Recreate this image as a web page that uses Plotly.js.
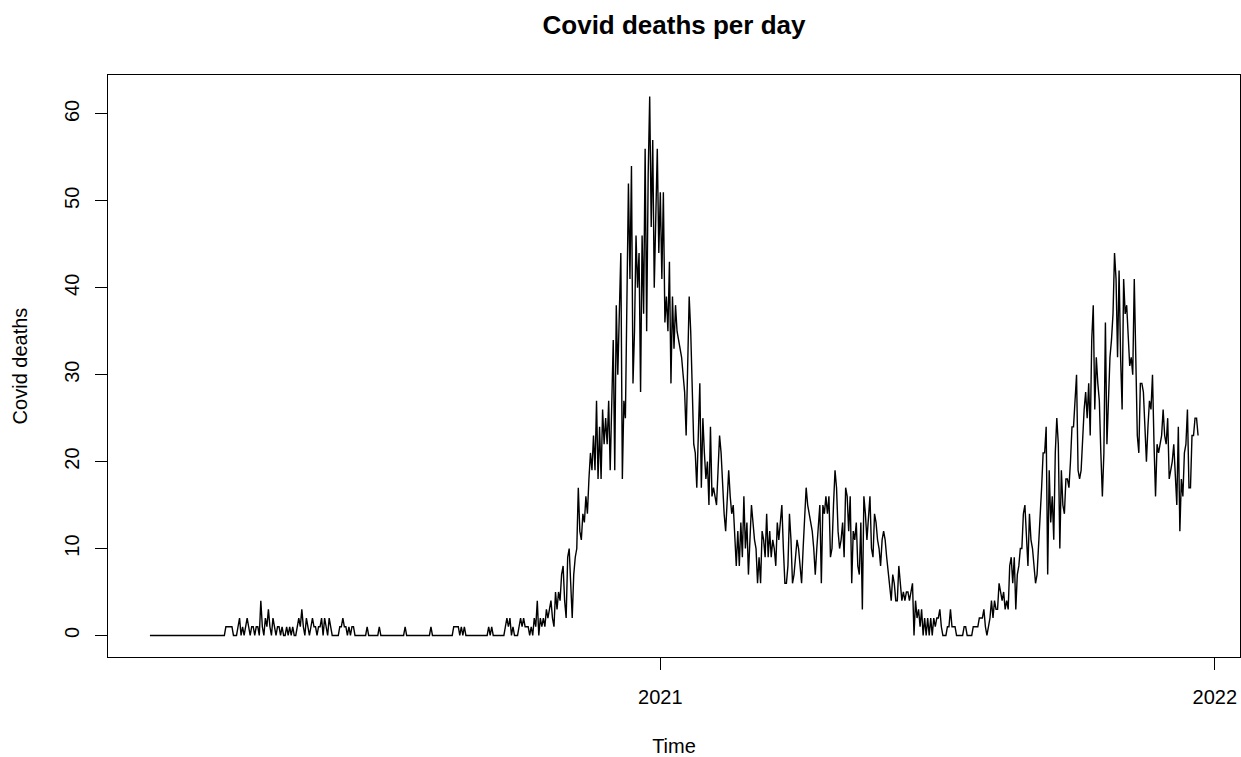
<!DOCTYPE html>
<html>
<head>
<meta charset="utf-8">
<script src="https://cdn.plot.ly/plotly-3.0.1.min.js"></script>
<style>html,body{margin:0;padding:0;background:#fff;}#chart{width:1241px;height:757px;}</style>
</head>
<body>
<div id="chart"></div>
<script>
// Daily series (R ts, frequency 365, start = c(2020, 30))
const startYear = 2020;
const startDay = 30;
const frequency = 365;

// Days 0-229 (Jan 30 2020 - mid Sep 2020)
const deathsEarly = [
  0,0,0,0,0,0,0,0,0,0, 0,0,0,0,0,0,0,0,0,0, 0,0,0,0,0,0,0,0,0,0,
  0,0,0,0,0,0,0,0,0,0, 0,0,0,0,0,0,0,0,0,0,
  1,1,1,1,1,0,0,0,1,2, 0,1,0,1,2,1,0,1,1,0, 1,1,0,4,1,0,2,1,3,1,
  0,2,1,0,1,1,0,1,0,0, 1,0,1,0,1,0,0,1,2,1, 3,1,0,2,1,0,1,2,1,1,
  0,1,
  1,2,0,2,1,0,2,1,
  0,0,0,0,0,1,1,2,1,1, 0,1,0,1,1,0,0,0,0,0, 0,0,0,1,0,0,0,0,0,0,
  0,1,0,0,0,0,0,0,0,0, 0,0,0,0,0,0,0,0,1,0, 0,0,0,0,0,0,0,0,0,0,
  0,0,0,0,0,1,0,0,0,0, 0,0,0,0,0,0,0,0,0,0, 1,1,1,1,0,1,0,1,0,0,
  0,0,0,0,0,0,0,0,0,0, 0,0,0,1,0,1,0,0,0,0
];

// Days 230-387 (first big wave, autumn 2020 - winter 2021)
const deathsWave1 = [
  0,0,0,0,1,2,1,2,0,1, 0,0,0,1,2,1,2,1,1,1, 0,1,0,2,1,4,0,2,1,2,
  1,3,2,3,4,2,1,5,3,5, 4,7,8,4,2,9,10,6,2,7, 9,10,17,12,11,14,13,16,14,18,
  21,19,23,19,27,18,24,18,26,22, 25,22,27,19,27,34,19,38,30,36,
  44,18,27,25,38,52,41,54,29,35, 46,40,44,28,46,37,56,35,53,62,
  47,57,40,50,56,44,51,41,51,36, 39,35,43,
  29,39,33,38,35,34,33,
  32,30,28,23,32,39,35,28,22,21, 17,23,29,17,25,21,18,20,15,24,
  16,17,16,15,19,23,21,17,14,12, 15,19,16,14,15,11,8,12
];

// Days 388-558 (spring plateau and summer trough 2021)
const deathsMid = [
  8,13,9,16,10,13, 7,11,15,13,11,10,
  6,9,6,12,11,9,14,9,12,9, 11,10,8,13,11,13,15,10,6,6,
  8,14,11,6,7,9,11,10,8,6, 10,13,17,15,14,13,12,10,7,10,
  13,15,6,15,14,16,14, 16,9,10,15,19,17,12, 10,11,13,9,17,16,
  12,16,6,12,11,13,8,7,13,3, 16,14,11,14,16,10,9,14,13,11,
  10,8,11,12,11,9,7,5,4,7, 6,4,4,8,6,4,5,4,5,5,
  4,5,6,0,4,2,3, 1,3,0,
  2,0,2,0,2,0,2,1,2,2, 3,1,0,0,0,1,1,3,1,1, 1,0,0,0,0,0,1,1,0,0,
  0,0,1,1,1,1,2,2,2,3, 1,0,1,2,4,2,4,3,3
];

// Days 559-690 (second wave, autumn 2021)
const deathsWave2 = [
  6,5,4,5,3,4,3,8,9,6,9,
  3,7,8,10,10,14,15,12,8,14, 11,10,8,6,7,10,13,17,21,21,
  24,7,19,13,16,11,21,25,22,10, 19,15,14,18,18, 17,20,24,24,27,
  30,19,18,19,23,26,28,25,29,23, 34,38,26,32,29,27,21,16,21,36,
  22,28,32,34,37,44,41,32,42,32, 26,41,37,38,34,31,32,30,41,30,
  23, 21,29,29,28,24,20,24,27,26,
  30,22,16,22,21,22,23,26,23,22, 25,18,19,20,22,19,15,24,12,18,
  16,21,22,26,17,17,23,23,25,25,23
];

const yTicks = [0, 10, 20, 30, 40, 50, 60];
const xTicks = [2021, 2022];
const xTickText = ['2021', '2022'];

const deaths = deathsEarly.concat(deathsWave1, deathsMid, deathsWave2);
const time = deaths.map((_, i) => startYear + (startDay - 1 + i) / frequency);

// R-style 4% axis extension
const tMin = time[0], tMax = time[time.length - 1];
const tPad = 0.04 * (tMax - tMin);
const yMin = Math.min(...deaths), yMax = Math.max(...deaths);
const yPad = 0.04 * (yMax - yMin);

const FONT = 'Liberation Sans, Arial, sans-serif';

const trace = {
  x: time, y: deaths, type: 'scatter', mode: 'lines',
  line: {color: '#000000', width: 1.4},
  hoverinfo: 'x+y'
};

const layout = {
  width: 1241, height: 757,
  paper_bgcolor: '#ffffff', plot_bgcolor: '#ffffff',
  margin: {l: 108, r: 1, t: 75, b: 100, pad: 0},
  showlegend: false,
  font: {family: FONT, color: '#000000', size: 20},
  title: {
    text: '<b>Covid deaths per day</b>',
    font: {family: FONT, size: 26, color: '#000000'},
    x: 0.5, xref: 'paper', xanchor: 'center',
    y: 1 - 25 / 757, yref: 'container', yanchor: 'middle'
  },
  xaxis: {
    range: [tMin - tPad, tMax + tPad],
    tickmode: 'array', tickvals: xTicks, ticktext: xTickText,
    ticks: 'outside', ticklen: 12, tickwidth: 1, tickcolor: '#000',
    ticklabelstandoff: 10,
    showline: true, mirror: true, linecolor: '#000', linewidth: 1,
    showgrid: false, zeroline: false,
    tickfont: {family: FONT, size: 20, color: '#000'},
    title: {text: 'Time', font: {family: FONT, size: 20, color: '#000'}, standoff: 33}
  },
  yaxis: {
    range: [yMin - yPad, yMax + yPad],
    tickmode: 'array', tickvals: yTicks,
    tickangle: -90,
    ticks: 'outside', ticklen: 12, tickwidth: 1, tickcolor: '#000',
    ticklabelstandoff: 8,
    showline: true, mirror: true, linecolor: '#000', linewidth: 1,
    showgrid: false, zeroline: false,
    tickfont: {family: FONT, size: 20, color: '#000'},
    title: {text: 'Covid deaths', font: {family: FONT, size: 20, color: '#000'}, standoff: 28}
  }
};

Plotly.newPlot('chart', [trace], layout, {displayModeBar: false, staticPlot: true});
</script>
</body>
</html>
